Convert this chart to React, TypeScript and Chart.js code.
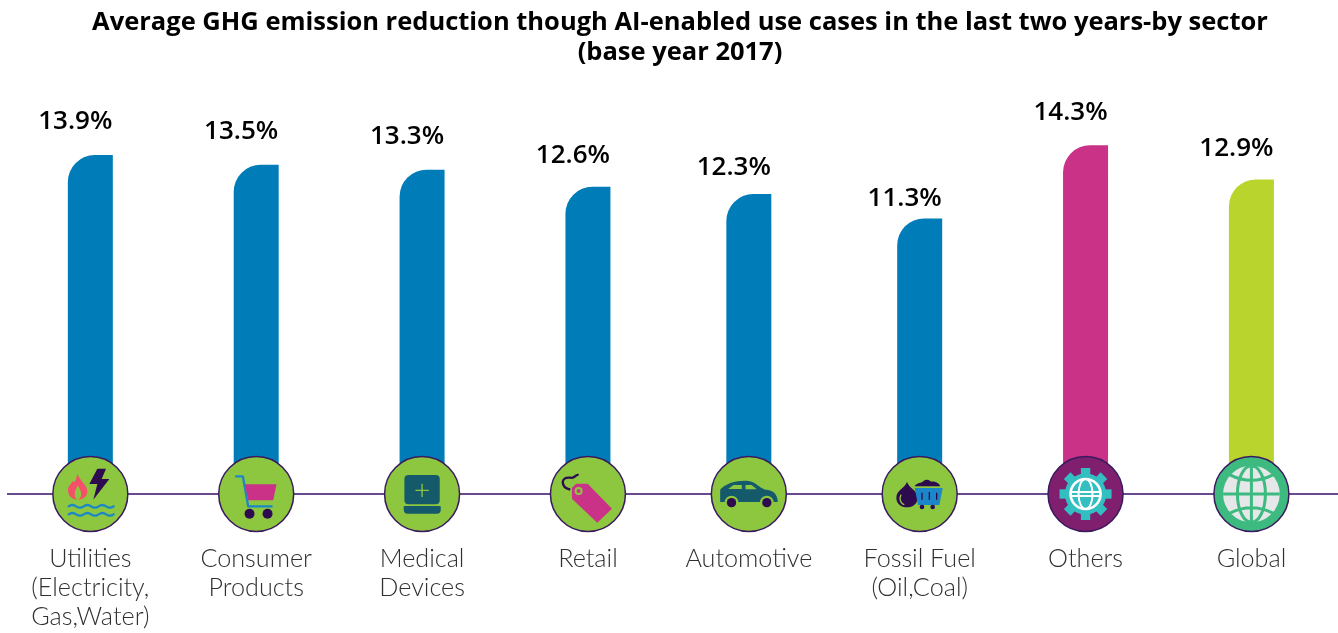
import React, { useEffect, useRef } from "react";
import { Chart, BarElement, registerables } from "chart.js";

Chart.register(...registerables);

const sectorLabels: string[][] = [
  ["Utilities", "(Electricity,", "Gas,Water)"],
  ["Consumer", "Products"],
  ["Medical", "Devices"],
  ["Retail"],
  ["Automotive"],
  ["Fossil Fuel", "(Oil,Coal)"],
  ["Others"],
  ["Global"],
];
const axisSlots = [0, 1, 2, 3, 3.97, 5, 6, 7];
const reductionValues = [13.9, 13.5, 13.3, 12.6, 12.3, 11.3, 14.3, 12.9];
const valueLabels = ["13.9%", "13.5%", "13.3%", "12.6%", "12.3%", "11.3%", "14.3%", "12.9%"];
const chartTitle = [
  "Average GHG emission reduction though AI-enabled use cases in the last two years-by sector",
  "(base year 2017)",
];

const BLUE = "#007db8";
const barColors = [BLUE, BLUE, BLUE, BLUE, BLUE, BLUE, "#c93287", "#bad42e"];
const GREEN = "#8dc63f";
const DARK = "#2e0a4f";
const TEAL = "#155a6b";
const MAG = "#c93287";
const ICONBLUE = "#1b87c9";
const circleFills = [GREEN, GREEN, GREEN, GREEN, GREEN, GREEN, "#7f1f6e", "#3dba80"];
const labelLifts = [26.5, 25.5, 25.5, 23.5, 19.5, 12.5, 25.5, 23.5];

// The reference's corner radius is wider than half a bar, which Chart.js would clamp.
(BarElement.prototype as any).draw = function (ctx: CanvasRenderingContext2D) {
  const { x, y, base, width } = this as any;
  ctx.save();
  ctx.fillStyle = (this as any).options.backgroundColor;
  ctx.beginPath();
  ctx.roundRect(x - width / 2, y, width, base - y, [27, 0, 0, 0]);
  ctx.fill();
  ctx.restore();
};

type C = CanvasRenderingContext2D;
const poly = (c: C, pts: number[][], fill: string) => {
  c.fillStyle = fill;
  c.beginPath();
  pts.forEach((p, i) => (i ? c.lineTo(p[0], p[1]) : c.moveTo(p[0], p[1])));
  c.closePath();
  c.fill();
};
const dot = (c: C, x: number, y: number, r: number, fill: string) => {
  c.fillStyle = fill;
  c.beginPath();
  c.arc(x, y, r, 0, Math.PI * 2);
  c.fill();
};
const rrect = (c: C, x: number, y: number, w: number, h: number, r: any, fill: string) => {
  c.fillStyle = fill;
  c.beginPath();
  c.roundRect(x, y, w, h, r);
  c.fill();
};
const wave = (c: C, x0: number, y: number, n: number, seg: number, amp: number) => {
  c.beginPath();
  c.moveTo(x0, y);
  for (let i = 0; i < n; i++) {
    const d = i % 2 ? amp : -amp;
    c.quadraticCurveTo(x0 + seg * i + seg / 2, y + d * 2, x0 + seg * (i + 1), y);
  }
  c.stroke();
};

// Icons are drawn in a local coordinate system of 1/3 px with the disc centre at 0,0.
const icons: ((c: C) => void)[] = [
  (c) => {
    c.translate(-271, -161);
    c.fillStyle = "#f4506a";
    c.beginPath();
    c.moveTo(232, 100);
    c.bezierCurveTo(240, 122, 262, 135, 262, 152);
    c.bezierCurveTo(262, 168, 250, 178, 233, 178);
    c.bezierCurveTo(215, 178, 204, 165, 204, 150);
    c.bezierCurveTo(204, 136, 214, 132, 218, 122);
    c.bezierCurveTo(222, 130, 228, 122, 232, 100);
    c.fill();
    c.fillStyle = GREEN;
    c.beginPath();
    c.moveTo(233, 180);
    c.bezierCurveTo(218, 170, 224, 152, 233, 135);
    c.bezierCurveTo(244, 152, 250, 168, 233, 180);
    c.fill();
    poly(c, [[292, 85], [318, 85], [305, 116], [328, 116], [280, 178], [292, 131], [268, 131]], DARK);
    c.strokeStyle = ICONBLUE;
    c.lineWidth = 7;
    c.lineCap = "round";
    wave(c, 206, 198, 6, 22.5, 4);
    wave(c, 206, 222, 6, 22.5, 4);
  },
  (c) => {
    c.translate(-769, -161);
    c.strokeStyle = ICONBLUE;
    c.lineWidth = 7;
    c.lineJoin = "round";
    c.beginPath();
    c.moveTo(706, 108);
    c.lineTo(729, 108);
    c.lineTo(745, 198);
    c.lineTo(818, 198);
    c.stroke();
    poly(c, [[735, 132], [830, 132], [820, 180], [745, 180]], MAG);
    dot(c, 749, 220, 15, DARK);
    dot(c, 803, 220, 15, DARK);
  },
  (c) => {
    c.translate(-1266, -161);
    rrect(c, 1213, 104, 106, 88, 12, TEAL);
    rrect(c, 1211, 197, 111, 23, [2, 2, 12, 12], TEAL);
    c.strokeStyle = GREEN;
    c.lineWidth = 4;
    c.beginPath();
    c.moveTo(1246, 150);
    c.lineTo(1286, 150);
    c.moveTo(1266, 130);
    c.lineTo(1266, 170);
    c.stroke();
  },
  (c) => {
    c.translate(-413, -161);
    poly(c, [[365, 175], [365, 142], [378, 130], [412, 130], [485, 205], [441, 247]], MAG);
    c.strokeStyle = GREEN;
    c.lineWidth = 6;
    c.beginPath();
    c.arc(385, 152, 9, 0, Math.PI * 2);
    c.stroke();
    c.strokeStyle = DARK;
    c.lineWidth = 7;
    c.beginPath();
    c.moveTo(385, 104);
    c.bezierCurveTo(375, 100, 375, 116, 360, 112);
    c.bezierCurveTo(330, 108, 330, 140, 360, 148);
    c.stroke();
  },
  (c) => {
    c.translate(-894, -161);
    c.fillStyle = TEAL;
    c.beginPath();
    c.moveTo(808, 185);
    c.lineTo(808, 148);
    c.bezierCurveTo(825, 125, 880, 115, 905, 125);
    c.bezierCurveTo(920, 132, 930, 145, 945, 148);
    c.bezierCurveTo(965, 150, 980, 158, 981, 185);
    c.closePath();
    c.fill();
    dot(c, 842, 187, 21, GREEN);
    dot(c, 948, 187, 21, GREEN);
    dot(c, 842, 187, 14, DARK);
    dot(c, 948, 187, 14, DARK);
    poly(c, [[832, 146], [848, 134], [873, 134], [873, 146]], GREEN);
    poly(c, [[884, 134], [902, 134], [918, 147], [884, 147]], GREEN);
  },
  (c) => {
    c.translate(-96, -161);
    c.fillStyle = DARK;
    c.beginPath();
    c.moveTo(58, 125);
    c.bezierCurveTo(65, 145, 90, 150, 90, 172);
    c.bezierCurveTo(90, 190, 75, 201, 58, 201);
    c.bezierCurveTo(40, 201, 26, 190, 26, 172);
    c.bezierCurveTo(26, 150, 50, 145, 58, 125);
    c.fill();
    c.strokeStyle = GREEN;
    c.lineWidth = 4;
    c.beginPath();
    c.moveTo(40, 163);
    c.bezierCurveTo(34, 175, 38, 190, 50, 193);
    c.stroke();
    c.fillStyle = DARK;
    c.beginPath();
    c.moveTo(80, 138);
    c.bezierCurveTo(90, 125, 100, 128, 105, 124);
    c.bezierCurveTo(115, 114, 125, 118, 130, 124);
    c.bezierCurveTo(145, 122, 155, 130, 158, 138);
    c.closePath();
    c.fill();
    poly(c, [[81, 143], [165, 143], [155, 194], [91, 194]], ICONBLUE);
    c.strokeStyle = DARK;
    c.lineWidth = 4;
    c.beginPath();
    [[103, 157], [125, 155], [147, 157]].forEach((p) => {
      c.moveTo(p[0], p[1]);
      c.lineTo(p[0], 178);
    });
    c.stroke();
    dot(c, 103, 200, 7, DARK);
    dot(c, 135, 200, 7, DARK);
  },
  (c) => {
    const gear = "#33bfc2";
    for (let i = 0; i < 8; i++) {
      c.save();
      c.rotate((i * Math.PI) / 4);
      c.fillStyle = gear;
      c.fillRect(-14, -78, 28, 30);
      c.restore();
    }
    dot(c, 0, 0, 62, gear);
    c.strokeStyle = "#ffffff";
    c.lineWidth = 8;
    c.beginPath();
    c.arc(0, 0, 45, 0, Math.PI * 2);
    c.stroke();
    c.lineWidth = 6;
    c.beginPath();
    c.ellipse(0, 0, 21, 45, 0, 0, Math.PI * 2);
    c.moveTo(-45, -6);
    c.lineTo(45, -6);
    c.moveTo(-45, 6);
    c.lineTo(45, 6);
    c.stroke();
  },
  (c) => {
    const g = circleFills[7];
    dot(c, 0, 0, 85, "#e6e7e8");
    c.strokeStyle = g;
    c.lineWidth = 9;
    c.beginPath();
    c.ellipse(0, 0, 42, 85, 0, 0, Math.PI * 2);
    c.moveTo(0, -85);
    c.lineTo(0, 85);
    c.moveTo(-85, 0);
    c.lineTo(85, 0);
    c.moveTo(-66, -58);
    c.quadraticCurveTo(0, -24, 66, -58);
    c.moveTo(-66, 58);
    c.quadraticCurveTo(0, 24, 66, 58);
    c.stroke();
  },
];

const overlayPlugin = {
  id: "overlay",
  beforeDatasetsDraw(chart: Chart) {
    const c = chart.ctx;
    const cy = chart.scales.y.getPixelForValue(0);
    c.save();
    c.strokeStyle = "#6a4a8c";
    c.lineWidth = 2;
    c.beginPath();
    c.moveTo(7, cy);
    c.lineTo(chart.width, cy);
    c.stroke();
    c.restore();
  },
  afterDatasetsDraw(chart: Chart) {
    const c = chart.ctx;
    const bars = chart.getDatasetMeta(0).data;
    const cy = chart.scales.y.getPixelForValue(0);
    bars.forEach((bar: any, i: number) => {
      c.save();
      c.fillStyle = "#000000";
      c.font = "600 26px 'Open Sans'";
      c.textAlign = "center";
      c.textBaseline = "alphabetic";
      c.fillText(valueLabels[i], bar.x - 15, bar.y - labelLifts[i]);
      c.restore();

      c.save();
      c.beginPath();
      c.arc(bar.x, cy, 37.5, 0, Math.PI * 2);
      c.fillStyle = circleFills[i];
      c.fill();
      c.lineWidth = 1.5;
      c.strokeStyle = "#3a1a5e";
      c.stroke();
      c.translate(bar.x, cy);
      c.scale(1 / 3, 1 / 3);
      icons[i](c);
      c.restore();
    });
  },
};

export default function App() {
  const ref = useRef<HTMLCanvasElement>(null);
  useEffect(() => {
    const chart = new Chart(ref.current!, {
      type: "bar",
      data: {
        datasets: [
          {
            data: reductionValues.map((v, i) => ({ x: axisSlots[i], y: v })),
            backgroundColor: barColors,
            barThickness: 45,
            borderSkipped: false,
          },
        ],
      },
      options: {
        responsive: false,
        animation: false,
        layout: { padding: { left: 22, right: 0, top: 0, bottom: 0 } },
        plugins: {
          legend: { display: false },
          tooltip: { enabled: false },
          title: {
            display: true,
            text: chartTitle,
            color: "#000000",
            font: { family: "'Open Sans'", size: 25.5, weight: "bold", lineHeight: 1.2 },
            padding: { top: 7, bottom: 20 },
          },
        },
        scales: {
          x: {
            type: "linear",
            offset: false,
            min: -0.412,
            max: 7.522,
            grid: { display: false, drawTicks: false },
            border: { display: false },
            afterBuildTicks: (axis: any) => {
              axis.ticks = axisSlots.map((v) => ({ value: v }));
            },
            afterFit: (axis: any) => {
              axis.paddingLeft = 0;
              axis.paddingRight = 0;
              axis.height = 139;
            },
            ticks: {
              autoSkip: false,
              maxRotation: 0,
              minRotation: 0,
              padding: 50,
              color: "#303030",
              font: { family: "Lato", size: 25.2, weight: "300", lineHeight: 1.15 },
              callback: (_v: any, i: number) => sectorLabels[i],
            },
          },
          y: { display: false, min: 0, max: 16.64, grid: { display: false } },
        },
      } as any,
      plugins: [overlayPlugin],
    });
    return () => chart.destroy();
  }, []);
  return (
    <div style={{ position: "absolute", left: 0, top: 0 }}>
      <canvas ref={ref} width={1338} height={633} style={{ display: "block" }} />
    </div>
  );
}
